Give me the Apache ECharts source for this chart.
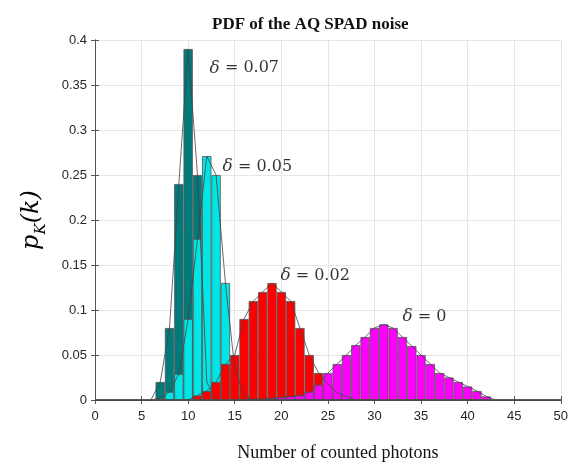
<!DOCTYPE html>
<html>
<head>
<meta charset="utf-8">
<script src="https://cdn.jsdelivr.net/npm/echarts@6/dist/echarts.min.js"></script>
<style>
    html, body { margin: 0; padding: 0; background: #fff; }
    #chart { width: 571px; height: 467px; }
</style>
</head>
<body>
<div id="chart"></div>
<script>
// photon counts k and pdf values for each delta
const k007 = [7, 8, 9, 10, 11, 12]
const p007 = [0.02, 0.08, 0.24, 0.39, 0.25, 0.02]

const k005 = [7, 8, 9, 10, 11, 12, 13, 14, 15, 16]
const p005 = [0.002, 0.009, 0.029, 0.09, 0.179, 0.271, 0.25, 0.13, 0.035, 0.005]

const k002 = [11, 12, 13, 14, 15, 16, 17, 18, 19, 20, 21, 22, 23, 24, 25, 26, 27]
const p002 = [0.005, 0.01, 0.02, 0.04, 0.05, 0.09, 0.11, 0.12, 0.13, 0.12, 0.11, 0.08, 0.05, 0.03, 0.018, 0.008, 0.004]

const k000 = [17, 18, 19, 20, 21, 22, 23, 24, 25, 26, 27, 28, 29, 30, 31, 32, 33, 34, 35, 36, 37, 38, 39, 40, 41, 42]
const p000 = [0.001, 0.001, 0.002, 0.003, 0.004, 0.005, 0.009, 0.017, 0.03, 0.04, 0.05, 0.061, 0.07, 0.08, 0.084,
              0.08, 0.07, 0.06, 0.05, 0.04, 0.03, 0.025, 0.02, 0.015, 0.01, 0.004]

const deltaNames = ['0.07', '0.05', '0.02', '0']
const labelK = [12.3, 13.7, 19.9, 33.0]
const labelP = [0.3686, 0.259, 0.138, 0.0924]

const groups = [
    { ks: k007, ps: p007, color: '#007b7b' },
    { ks: k005, ps: p005, color: '#00e6e6' },
    { ks: k002, ps: p002, color: '#ff0000' },
    { ks: k000, ps: p000, color: '#ff00ff' }
]

const tickFont = { fontFamily: 'Liberation Sans', fontSize: 13, color: '#262626' }

const barSeries = groups.map(g => {
    return {
        type: 'bar',
        data: g.ks.map((k, i) => [k, g.ps[i]]),
        barWidth: '100%',
        barGap: '-100%',
        itemStyle: {
            color: g.color,
            borderColor: '#555',
            borderWidth: 0.8
        },
        z: 2
    }
})

// envelope lines over the whole 0..50 range (zero outside the bars)
const lineSeries = groups.map(g => {
    const pts = []
    for (let k = 0; k <= 50; k++) {
        const i = g.ks.indexOf(k)
        pts.push([k, i >= 0 ? g.ps[i] : 0])
    }
    return {
        type: 'line',
        data: pts,
        symbol: 'none',
        lineStyle: { color: '#444', width: 0.8 },
        z: 4
    }
})

const labelSeries = {
    type: 'scatter',
    symbolSize: 0,
    data: labelK.map((k, i) => ({
        value: [k, labelP[i]],
        label: {
            show: true,
            position: 'right',
            distance: 0,
            formatter: '{d|δ} = ' + deltaNames[i],
            fontFamily: 'DejaVu Serif',
            fontSize: 16,
            color: '#000',
            rich: {
                d: { fontFamily: 'DejaVu Serif', fontStyle: 'italic', fontSize: 17, color: '#000' }
            }
        }
    })),
    z: 5
}

const chart = echarts.init(document.getElementById('chart'))

chart.setOption({
    animation: false,
    backgroundColor: '#fff',
    title: {
        text: 'PDF of the AQ SPAD noise',
        left: 207,
        top: 11,
        textStyle: { fontFamily: 'Liberation Serif', fontWeight: 'bold', fontSize: 17, color: '#111' }
    },
    grid: { left: 95, right: 9, top: 40, bottom: 61, show: false },
    xAxis: [
        {
            type: 'value',
            min: 0,
            max: 50,
            interval: 5,
            name: 'Number of counted photons',
            nameLocation: 'middle',
            nameGap: 44,
            nameTextStyle: { fontFamily: 'Liberation Serif', fontSize: 18, color: '#111', padding: [0, 0, 0, 20] },
            axisLine: { lineStyle: { color: '#555', width: 1 } },
            axisTick: { inside: true, length: 4, lineStyle: { color: '#555' } },
            axisLabel: Object.assign({ margin: 10 }, tickFont),
            splitLine: { show: true, lineStyle: { color: '#e6e6e6', width: 1 } }
        },
        {
            type: 'value',
            position: 'top',
            min: 0,
            max: 50,
            interval: 5,
            axisLine: { lineStyle: { color: '#555', width: 1 } },
            axisTick: { inside: true, length: 4, lineStyle: { color: '#555' } },
            axisLabel: { show: false },
            splitLine: { show: false }
        }
    ],
    yAxis: [
        {
            type: 'value',
            min: 0,
            max: 0.4,
            interval: 0.05,
            name: '{p|p}{s|K}{p|(k)}',
            nameLocation: 'middle',
            nameRotate: 90,
            nameGap: 46,
            nameTextStyle: {
                rich: {
                    p: { fontFamily: 'DejaVu Serif', fontStyle: 'italic', fontSize: 24, color: '#000', lineHeight: 34 },
                    s: { fontFamily: 'DejaVu Serif', fontStyle: 'italic', fontSize: 15, color: '#000', lineHeight: 34, verticalAlign: 'bottom' }
                }
            },
            axisLine: { show: true, lineStyle: { color: '#555', width: 1 } },
            axisTick: { show: true, inside: true, length: 4, lineStyle: { color: '#555' } },
            axisLabel: Object.assign({ margin: 8, formatter: v => String(+v.toFixed(2)) }, tickFont),
            splitLine: { show: true, lineStyle: { color: '#e6e6e6', width: 1 } }
        },
        {
            type: 'value',
            position: 'right',
            min: 0,
            max: 0.4,
            interval: 0.05,
            axisLine: { show: true, lineStyle: { color: '#555', width: 1 } },
            axisTick: { show: true, inside: true, length: 4, lineStyle: { color: '#555' } },
            axisLabel: { show: false },
            splitLine: { show: false }
        }
    ],
    series: [...barSeries, ...lineSeries, labelSeries]
})
</script>
</body>
</html>
